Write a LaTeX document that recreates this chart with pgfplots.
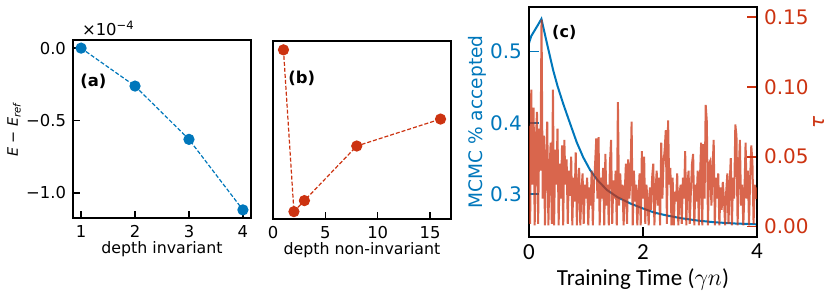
\documentclass[border=0pt]{standalone}
\usepackage{pgfplots}
\pgfplotsset{compat=1.18}
\usepackage{fontspec}
\setmainfont{DejaVu Sans}
\newfontfamily\carlito{Carlito}
\definecolor{myblue}{HTML}{0077BB}
\definecolor{myred}{HTML}{CC3311}
\begin{document}
\begin{tikzpicture}
\path[use as bounding box] (0,0) rectangle (415.5pt,-148pt);
\pgfplotsset{
  every axis/.append style={
    scale only axis,
    /pgf/number format/assume math mode=true,
    tick align=inside,
    axis line style={line width=1pt},
    every tick/.style={line width=0.7pt, black},
    major tick length=3.5pt,
  }
}
% ---------- (a) ----------
\begin{axis}[at={(36.5pt,-20pt)}, anchor=north west, width=89pt, height=89pt,
  clip=false,
  xmin=0.85, xmax=4.15, ymin=-1.173, ymax=0.056,
  xtick={1,2,3,4}, ytick={-1,-0.5,0}, yticklabels={−1.0,−0.5,0.0},
  xtick pos=bottom, ytick pos=left,
  ticklabel style={font=\fontsize{8.2}{9}\selectfont},
  xlabel={depth invariant},
  xlabel style={font=\fontsize{7.9}{9}\selectfont, at={(axis description cs:0.5,-0.197)}, anchor=base},
  ylabel={\textit{E} − \textit{E}\textsubscript{\textit{ref}}},
  ylabel style={font=\fontsize{7.2}{8}\selectfont, at={(axis description cs:-0.331,0.5)}, anchor=center},
]
\addplot[myblue, line width=0.6pt, dash pattern=on 2pt off 1pt, mark=*, mark size=2.5pt, mark options={solid, fill=myblue, draw=myblue}]
  coordinates {(1,0) (2,-0.262) (3,-0.63) (4,-1.117)};
\node[anchor=base west, font=\fontsize{8.2}{9}\selectfont, xshift=1pt, yshift=2.5pt] at (rel axis cs:0,1) {×10\textsuperscript{−4}};
\node[anchor=west, inner sep=0pt, font=\bfseries\fontsize{8.2}{9}\selectfont] at (rel axis cs:0.039,0.77) {(a)};
\end{axis}
% ---------- (b) ----------
\begin{axis}[at={(136.5pt,-20.5pt)}, anchor=north west, width=89pt, height=89pt,
  xmin=0, xmax=17, ymin=-1.173, ymax=0.056,
  xtick={0,5,10,15}, ytick=\empty,
  xtick pos=bottom,
  ticklabel style={font=\fontsize{8.2}{9}\selectfont},
  xlabel={depth non-invariant},
  xlabel style={font=\fontsize{7.9}{9}\selectfont, at={(axis description cs:0.5,-0.197)}, anchor=base},
]
\addplot[myred, line width=0.6pt, dash pattern=on 2pt off 1pt, mark=*, mark size=2.5pt, mark options={solid, fill=myred, draw=myred}]
  coordinates {(1,-0.005) (2,-1.122) (3,-1.046) (8,-0.669) (16,-0.483)};
\node[anchor=west, inner sep=0pt, font=\bfseries\fontsize{8.2}{9}\selectfont] at (rel axis cs:0.084,0.79) {(b)};
\end{axis}
% ---------- (c) blue ----------
\begin{axis}[at={(264.5pt,-3.5pt)}, anchor=north west, width=114pt, height=115pt,
  xmin=0, xmax=4, ymin=0.240, ymax=0.5627,
  xtick={0,2,4}, ytick={0.3,0.4,0.5}, yticklabels={0.3,0.4,0.5},
  xtick pos=bottom, ytick pos=left,
  major tick length=5pt,
  y tick style={myblue, line width=0.8pt},
  xticklabel style={font=\carlito\fontsize{11.5}{12}\selectfont},
  yticklabel style={font=\fontsize{10}{11}\selectfont, myblue},
  xlabel={Training Time ($\gamma n$)},
  xlabel style={font=\carlito\fontsize{11.5}{12}\selectfont, at={(axis description cs:0.5,-0.209)}, anchor=base},
  ylabel={MCMC \% accepted},
  ylabel style={font=\fontsize{9.3}{10}\selectfont, myblue, at={(axis description cs:-0.226,0.5)}, anchor=center},
]
\addplot[myblue, line width=1pt] coordinates {
(0,0.512) (0.04,0.522) (0.1,0.530) (0.16,0.538) (0.218,0.546) (0.3,0.517) (0.424,0.474)
(0.5,0.452) (0.6,0.427) (0.7,0.404) (0.837,0.373) (0.95,0.352) (1.072,0.334) (1.2,0.320)
(1.367,0.306) (1.55,0.296) (1.779,0.2870) (2.0,0.280) (2.19,0.2745) (2.4,0.2705)
(2.66,0.2665) (2.95,0.2632) (3.25,0.2607) (3.6,0.2590) (4.0,0.2578)};
\node[anchor=west, inner sep=0pt, font=\bfseries\fontsize{8}{9}\selectfont] at (rel axis cs:0.1,0.89) {(c)};
\end{axis}
% ---------- (c) red ----------
\begin{axis}[at={(264.5pt,-3.5pt)}, anchor=north west, width=114pt, height=115pt,
  xmin=0, xmax=4, ymin=-0.0074, ymax=0.157,
  xtick=\empty, ytick={0,0.05,0.1,0.15}, yticklabels={0.00,0.05,0.10,0.15},
  ytick pos=right, yticklabel pos=right,
  major tick length=5pt,
  y tick style={myred, line width=0.8pt},
  yticklabel style={font=\fontsize{10}{11}\selectfont, myred},
  ylabel={\textit{τ}},
  ylabel style={font=\fontsize{10}{11}\selectfont, myred, at={(axis description cs:1.272,0.5)}, anchor=center},
]
\addplot[myred, opacity=0.75, line width=1.0pt, line join=miter] coordinates {
(0.00,0.072) (0.02,0.002) (0.04,0.098) (0.06,0.030) (0.08,0.085) (0.10,0.001) (0.12,0.060)
(0.14,0.082) (0.16,0.002) (0.18,0.070) (0.20,0.040) (0.22,0.148) (0.24,0.020) (0.26,0.065)
(0.28,0.001) (0.30,0.050) (0.32,0.075) (0.34,0.001) (0.36,0.040) (0.38,0.060) (0.40,0.002)
(0.42,0.098) (0.44,0.001) (0.46,0.055) (0.48,0.030) (0.50,0.070)
(0.52,0.001) (0.54,0.045) (0.56,0.020) (0.58,0.058) (0.60,0.001) (0.62,0.062) (0.64,0.030)
(0.66,0.048) (0.68,0.002) (0.70,0.040) (0.72,0.022) (0.74,0.050) (0.76,0.001) (0.78,0.035)
(0.80,0.018) (0.82,0.053) (0.84,0.001) (0.86,0.030) (0.88,0.042) (0.90,0.001) (0.92,0.025)
(0.94,0.038) (0.96,0.002) (0.98,0.030) (1.00,0.020)
(1.02,0.035) (1.04,0.001) (1.06,0.028) (1.08,0.015) (1.10,0.040) (1.12,0.001) (1.14,0.030)
(1.16,0.045) (1.18,0.063) (1.20,0.020) (1.22,0.064) (1.24,0.001) (1.26,0.035) (1.28,0.020)
(1.30,0.042) (1.32,0.001) (1.34,0.052) (1.36,0.015) (1.38,0.030) (1.40,0.001) (1.42,0.045)
(1.44,0.062) (1.46,0.002) (1.48,0.033) (1.50,0.020)
(1.52,0.040) (1.54,0.001) (1.56,0.089) (1.58,0.015) (1.60,0.038) (1.62,0.020) (1.64,0.030)
(1.66,0.001) (1.68,0.025) (1.70,0.045) (1.72,0.002) (1.74,0.048) (1.76,0.020) (1.78,0.035)
(1.80,0.075) (1.82,0.001) (1.84,0.040) (1.86,0.018) (1.88,0.030) (1.90,0.001) (1.92,0.022)
(1.94,0.038) (1.96,0.001) (1.98,0.054) (2.00,0.020)
(2.02,0.050) (2.04,0.002) (2.06,0.030) (2.08,0.018) (2.10,0.001) (2.12,0.028) (2.14,0.012)
(2.16,0.035) (2.18,0.045) (2.20,0.001) (2.22,0.025) (2.24,0.040) (2.26,0.015) (2.28,0.035)
(2.30,0.001) (2.32,0.060) (2.34,0.020) (2.36,0.045) (2.38,0.055) (2.40,0.069) (2.42,0.002)
(2.44,0.076) (2.46,0.030) (2.48,0.042) (2.50,0.001)
(2.52,0.035) (2.54,0.001) (2.56,0.025) (2.58,0.018) (2.60,0.038) (2.62,0.001) (2.64,0.022)
(2.66,0.030) (2.68,0.002) (2.70,0.035) (2.72,0.020) (2.74,0.054) (2.76,0.001) (2.78,0.030)
(2.80,0.040) (2.82,0.002) (2.84,0.025) (2.86,0.045) (2.88,0.052) (2.90,0.001) (2.92,0.030)
(2.94,0.018) (2.96,0.040) (2.98,0.001) (3.00,0.035)
(3.02,0.060) (3.04,0.001) (3.06,0.059) (3.08,0.020) (3.10,0.087) (3.12,0.075) (3.14,0.001)
(3.16,0.045) (3.18,0.047) (3.20,0.015) (3.22,0.040) (3.24,0.062) (3.26,0.001) (3.28,0.035)
(3.30,0.020) (3.32,0.038) (3.34,0.001) (3.36,0.028) (3.38,0.012) (3.40,0.032) (3.42,0.020)
(3.44,0.001) (3.46,0.025) (3.48,0.038) (3.50,0.002)
(3.52,0.030) (3.54,0.049) (3.56,0.001) (3.58,0.035) (3.60,0.020) (3.62,0.073) (3.64,0.065)
(3.66,0.001) (3.68,0.040) (3.70,0.062) (3.72,0.015) (3.74,0.030) (3.76,0.001) (3.78,0.025)
(3.80,0.060) (3.82,0.020) (3.84,0.040) (3.86,0.001) (3.88,0.035) (3.90,0.058) (3.92,0.046)
(3.94,0.002) (3.96,0.030) (3.98,0.020) (4.00,0.028)};
\end{axis}
\end{tikzpicture}
\end{document}
